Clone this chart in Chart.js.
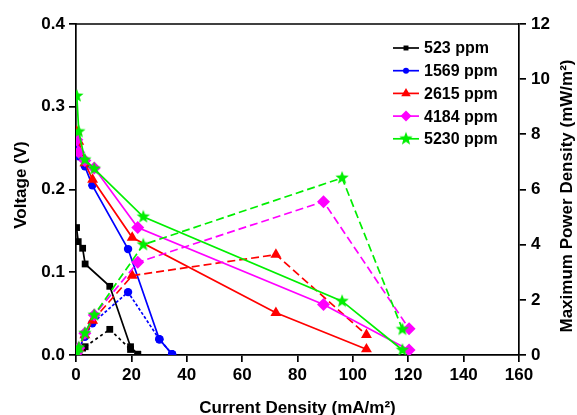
<!DOCTYPE html>
<html><head><meta charset="utf-8">
<script src="https://cdn.jsdelivr.net/npm/chart.js@4.4.1/dist/chart.umd.min.js"></script>
<style>html,body{margin:0;padding:0;background:#fff}#wrap{width:577px;height:415px}</style>
</head><body><div id="wrap"><canvas id="c" width="577" height="415"></canvas></div>
<script>
// ---- data ----
const seriesNames = ['523 ppm','1569 ppm','2615 ppm','4184 ppm','5230 ppm'];
const current523  = [0.2, 0.8, 2.4, 3.3, 12.2, 19.7, 22.3];
const voltage523  = [0.154, 0.137, 0.129, 0.110, 0.083, 0.010, 0.001];
const power523    = [0.03, 0.11, 0.25, 0.30, 0.93, 0.20, 0.02];
const current1569 = [0.3, 1.0, 3.2, 5.9, 18.8, 30.1, 34.7];
const voltage1569 = [0.250, 0.240, 0.228, 0.205, 0.128, 0.019, 0.001];
const power1569   = [0.07, 0.24, 0.66, 1.15, 2.28, 0.57, 0.03];
const current2615 = [0.3, 1.0, 3.2, 6.0, 20.3, 72.2, 104.9];
const voltage2615 = [0.270, 0.258, 0.232, 0.212, 0.142, 0.051, 0.007];
const power2615   = [0.08, 0.26, 0.72, 1.25, 2.88, 3.64, 0.73];
const current4184 = [0.3, 1.0, 3.2, 6.6, 22.3, 89.4, 120.3];
const voltage4184 = [0.260, 0.245, 0.235, 0.226, 0.154, 0.061, 0.006];
const power4184   = [0.08, 0.25, 0.79, 1.45, 3.36, 5.56, 0.95];
const current5230 = [0.3, 1.0, 3.2, 6.6, 24.3, 96.1, 117.9];
const voltage5230 = [0.313, 0.270, 0.236, 0.225, 0.167, 0.065, 0.006];
const power5230   = [0.09, 0.27, 0.79, 1.45, 4.00, 6.42, 0.93];
const xTicks = [0, 20, 40, 60, 80, 100, 120, 140, 160];
const voltageTicks = [0.0, 0.1, 0.2, 0.3, 0.4];
const powerTicks = [0, 2, 4, 6, 8, 10, 12];

// ---- style ----
const FONT = "'Liberation Sans', Arial, sans-serif";
const colors = ['#000000', '#0000ff', '#ff0000', '#ff00ff', '#00ee00'];

function makeStar(color, R) {
  const c = document.createElement('canvas');
  const s = Math.ceil(R * 2 + 2);
  c.width = s; c.height = s;
  const g = c.getContext('2d');
  g.fillStyle = color;
  g.beginPath();
  for (let i = 0; i < 10; i++) {
    const r = i % 2 === 0 ? R : R * 0.42;
    const a = -Math.PI / 2 + i * Math.PI / 5;
    const px = s / 2 + r * Math.cos(a), py = s / 2 + r * Math.sin(a);
    if (i === 0) g.moveTo(px, py); else g.lineTo(px, py);
  }
  g.closePath(); g.fill();
  return c;
}
const starImg = makeStar('#00ee00', 7);
const pointStyles = ['rect', 'circle', 'triangle', 'rectRot', starImg];
const pointRadii = [4.8, 4.2, 6.3, 6.5, 7];
const dashPatterns = [[3, 3], [3, 2], [8, 4], [8, 4], [8, 4]];

const currents = [current523, current1569, current2615, current4184, current5230];
const voltages = [voltage523, voltage1569, voltage2615, voltage4184, voltage5230];
const powers = [power523, power1569, power2615, power4184, power5230];

const datasets = [];
seriesNames.forEach((name, i) => {
  datasets.push({
    label: name,
    data: currents[i].map((x, k) => ({ x, y: voltages[i][k] })),
    yAxisID: 'y',
    showLine: true,
    borderColor: colors[i], backgroundColor: colors[i],
    borderWidth: 1.7,
    pointStyle: pointStyles[i], pointRadius: pointRadii[i],
    pointBorderWidth: 0, pointBackgroundColor: colors[i], pointBorderColor: colors[i],
    order: 10 - i
  });
  datasets.push({
    label: name + ' power',
    data: currents[i].map((x, k) => ({ x, y: powers[i][k] })),
    yAxisID: 'y2',
    showLine: true,
    borderColor: colors[i], backgroundColor: colors[i],
    borderWidth: 1.7, borderDash: dashPatterns[i],
    pointStyle: pointStyles[i], pointRadius: pointRadii[i],
    pointBorderWidth: 0, pointBackgroundColor: colors[i], pointBorderColor: colors[i],
    order: 10 - i
  });
});

function drawMarker(ctx, style, r, x, y, color) {
  ctx.save();
  ctx.fillStyle = color;
  ctx.beginPath();
  if (style === 'rect') { const s = r * Math.SQRT1_2; ctx.rect(x - s, y - s, 2 * s, 2 * s); ctx.fill(); }
  else if (style === 'circle') { ctx.arc(x, y, r, 0, Math.PI * 2); ctx.fill(); }
  else if (style === 'triangle') {
    ctx.moveTo(x, y - r); ctx.lineTo(x + r * 0.866, y + r * 0.5); ctx.lineTo(x - r * 0.866, y + r * 0.5); ctx.closePath(); ctx.fill();
  } else if (style === 'rectRot') {
    ctx.moveTo(x, y - r); ctx.lineTo(x + r, y); ctx.lineTo(x, y + r); ctx.lineTo(x - r, y); ctx.closePath(); ctx.fill();
  } else { ctx.drawImage(style, x - style.width / 2, y - style.height / 2); }
  ctx.restore();
}

const decor = {
  id: 'decor',
  afterDraw(chart) {
    const ctx = chart.ctx, a = chart.chartArea;
    ctx.save();
    // top frame line
    ctx.strokeStyle = '#000'; ctx.lineWidth = 1.7;
    ctx.beginPath(); ctx.moveTo(a.left, a.top); ctx.lineTo(a.right, a.top); ctx.stroke();
    // legend
    const lx = a.right - 126, ly0 = a.top + 24, dy = 22.7;
    ctx.font = 'bold 16px ' + FONT;
    ctx.textBaseline = 'middle'; ctx.textAlign = 'left';
    seriesNames.forEach((name, i) => {
      const y = ly0 + i * dy;
      ctx.strokeStyle = colors[i]; ctx.lineWidth = 1.7;
      ctx.beginPath(); ctx.moveTo(lx, y); ctx.lineTo(lx + 26, y); ctx.stroke();
      drawMarker(ctx, pointStyles[i], i === 0 ? 3.5 : (i === 1 ? 3 : (i === 4 ? 6 : 5.5)), lx + 13, y, colors[i]);
      ctx.fillStyle = '#000';
      ctx.fillText(name, lx + 31, y + 1);
    });
    // axis titles
    ctx.fillStyle = '#000';
    ctx.font = 'bold 17px ' + FONT;
    ctx.textAlign = 'center'; ctx.textBaseline = 'middle';
    ctx.fillText('Current Density (mA/m\u00B2)', (a.left + a.right) / 2, 408);
    ctx.save(); ctx.translate(21, 185); ctx.rotate(-Math.PI / 2);
    ctx.fillText('Voltage (V)', 0, 0); ctx.restore();
    ctx.save(); ctx.translate(567, 196); ctx.rotate(-Math.PI / 2);
    ctx.fillText('Maximum Power Density (mW/m\u00B2)', 0, 0); ctx.restore();
    ctx.restore();
  }
};

const tickFont = { family: FONT, size: 17, weight: 'bold' };
const gridCfg = { display: true, drawOnChartArea: false, drawTicks: true, tickLength: 7, color: '#000', lineWidth: 1.7 };
const borderCfg = { display: true, color: '#000', width: 1.7 };

new Chart(document.getElementById('c'), {
  type: 'scatter',
  data: { datasets },
  plugins: [decor],
  options: {
    responsive: false, animation: false, devicePixelRatio: 1,
    layout: { padding: { top: 24, left: 0, right: 0, bottom: 0 } },
    plugins: { legend: { display: false }, tooltip: { enabled: false } },
    scales: {
      x: {
        type: 'linear', min: xTicks[0], max: xTicks[xTicks.length - 1],
        afterBuildTicks: s => { s.ticks = xTicks.map(v => ({ value: v })); },
        ticks: { font: tickFont, color: '#000', padding: 3, maxRotation: 0 },
        grid: gridCfg, border: borderCfg,
        afterFit: s => { s.height = 60; }
      },
      y: {
        type: 'linear', position: 'left', min: 0, max: 0.4,
        afterBuildTicks: s => { s.ticks = voltageTicks.map(v => ({ value: v })); },
        ticks: { font: tickFont, color: '#000', padding: 4, callback: v => Number(v).toFixed(1) },
        grid: gridCfg, border: borderCfg,
        afterFit: s => { s.width = 76; }
      },
      y2: {
        type: 'linear', position: 'right', min: 0, max: 12,
        afterBuildTicks: s => { s.ticks = powerTicks.map(v => ({ value: v })); },
        ticks: { font: tickFont, color: '#000', padding: 5, callback: v => String(v) },
        grid: gridCfg, border: borderCfg,
        afterFit: s => { s.width = 58; }
      }
    }
  }
});
</script></body></html>
